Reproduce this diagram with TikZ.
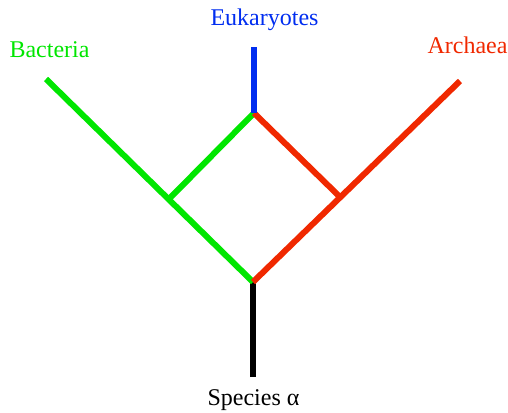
\documentclass[tikz,border=0pt]{standalone}
\usepackage{fontspec}
\setmainfont{Liberation Serif}
\begin{document}
\begin{tikzpicture}[x=1pt,y=-1pt,
  branch/.style={line width=6pt,line cap=butt},
  label/.style={anchor=base,inner sep=0pt,font=\fontsize{24}{28}\selectfont}]
\definecolor{bactgreen}{RGB}{0,230,0}
\definecolor{eukblue}{RGB}{0,45,240}
\definecolor{archred}{RGB}{240,40,0}
\useasboundingbox (0,0) rectangle (508,412);
% tree vertices
\coordinate (root) at (253,377);
\coordinate (split) at (253,282);
\coordinate (bact) at (46,79);
\coordinate (arch) at (460,81);
\coordinate (gjoin) at (170,198);
\coordinate (rjoin) at (339,196);
\coordinate (euk) at (254,113);
\coordinate (euktop) at (254,47);
% branches
\draw[branch,black] (root) -- (split);
\draw[branch,bactgreen] (split) -- (bact);
\draw[branch,bactgreen] (gjoin) -- (euk);
\draw[branch,archred] (split) -- (arch);
\draw[branch,archred] (rjoin) -- (euk);
\draw[branch,eukblue] (euk) -- (euktop);
% labels
\node[label,text=eukblue] (leuk) at (264.5,26) {Eukaryotes};
\node[label,text=bactgreen] (lbact) at (49.5,57) {Bacteria};
\node[label,text=archred] (larch) at (467.5,53) {Archaea};
\node[label,text=black] (lroot) at (253.5,405) {Species α};
\end{tikzpicture}
\end{document}
